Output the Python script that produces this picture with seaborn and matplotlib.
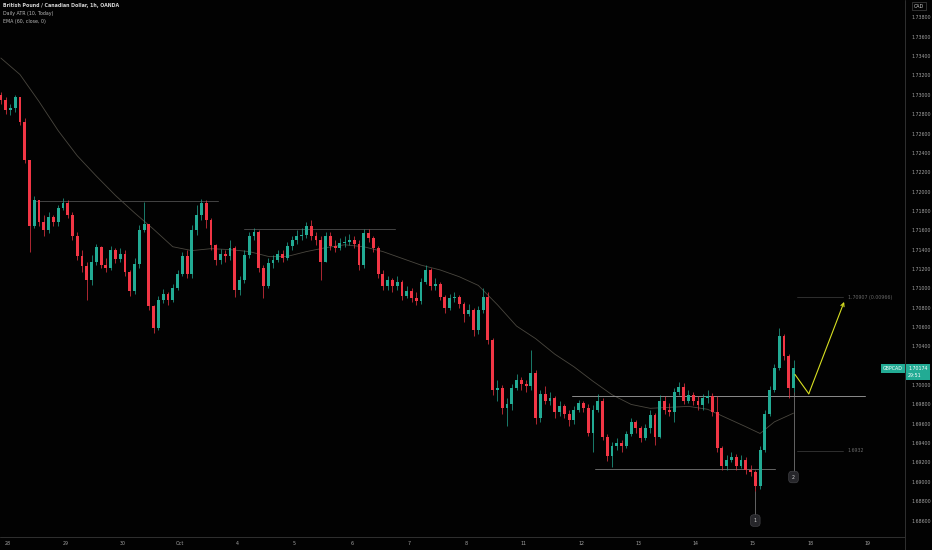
import numpy as np
import pandas as pd
import matplotlib
matplotlib.use("Agg")
import matplotlib.pyplot as plt
import matplotlib.transforms as mtransforms
from matplotlib.lines import Line2D
import seaborn as sns

# GBPCAD candles (2h bars, bar 0 = start of Sep 28)
first_open = 1.7300
closes = [1.7295, 1.7284, 1.7286, 1.7298, 1.7272, 1.7233, 1.7164, 1.7191, 1.7169, 1.7160,
          1.7174, 1.7169, 1.7183, 1.7188, 1.7176, 1.7154, 1.7133, 1.7123, 1.7109, 1.7127,
          1.7143, 1.7124, 1.7121, 1.7140, 1.7130, 1.7136, 1.7117, 1.7097, 1.7125, 1.7160,
          1.7166, 1.7082, 1.7059, 1.7088, 1.7094, 1.7088, 1.7100, 1.7115, 1.7133, 1.7115,
          1.7160, 1.7176, 1.7188, 1.7171, 1.7145, 1.7129, 1.7135, 1.7133, 1.7142, 1.7098,
          1.7109, 1.7134, 1.7154, 1.7158, 1.7121, 1.7102, 1.7126, 1.7129, 1.7136, 1.7131,
          1.7144, 1.7150, 1.7154, 1.7155, 1.7164, 1.7154, 1.7150, 1.7127, 1.7154, 1.7144,
          1.7142, 1.7147, 1.7148, 1.7150, 1.7146, 1.7124, 1.7157, 1.7152, 1.7142, 1.7115,
          1.7102, 1.7109, 1.7102, 1.7107, 1.7092, 1.7097, 1.7090, 1.7087, 1.7107, 1.7119,
          1.7102, 1.7104, 1.7091, 1.7080, 1.7090, 1.7091, 1.7084, 1.7073, 1.7078, 1.7057,
          1.7078, 1.7091, 1.7047, 1.6995, 1.6997, 1.6976, 1.6980, 1.6997, 1.7005, 1.7001,
          1.6999, 1.7013, 1.6966, 1.6991, 1.6984, 1.6987, 1.6972, 1.6978, 1.6970, 1.6964,
          1.6974, 1.6981, 1.6976, 1.6951, 1.6974, 1.6984, 1.6946, 1.6927, 1.6937, 1.6940,
          1.6937, 1.6949, 1.6962, 1.6956, 1.6945, 1.6956, 1.6969, 1.6946, 1.6984, 1.6974,
          1.6972, 1.6993, 1.6998, 1.6984, 1.6990, 1.6984, 1.6979, 1.6987, 1.6989, 1.6972,
          1.6935, 1.6916, 1.6923, 1.6926, 1.6916, 1.6923, 1.6912, 1.6910, 1.6896, 1.6933,
          1.6970, 1.6995, 1.7018, 1.7051, 1.7030, 1.6997, 1.70174]
highs = [1.7303, 1.7298, 1.7291, 1.7300, 1.7298, 1.7276, 1.7222, 1.7195, 1.7191, 1.7176,
         1.7179, 1.7176, 1.7186, 1.7193, 1.7191, 1.7179, 1.7158, 1.7140, 1.7127, 1.7134,
         1.7146, 1.7144, 1.7131, 1.7144, 1.7142, 1.7142, 1.7140, 1.7119, 1.7131, 1.7165,
         1.7189, 1.7166, 1.7083, 1.7092, 1.7099, 1.7096, 1.7104, 1.7119, 1.7138, 1.7140,
         1.7165, 1.7186, 1.7192, 1.7191, 1.7173, 1.7146, 1.7141, 1.7140, 1.7150, 1.7144,
         1.7113, 1.7140, 1.7158, 1.7162, 1.7160, 1.7124, 1.7131, 1.7134, 1.7140, 1.7140,
         1.7148, 1.7154, 1.7160, 1.7162, 1.7169, 1.7171, 1.7158, 1.7154, 1.7158, 1.7158,
         1.7150, 1.7152, 1.7154, 1.7156, 1.7154, 1.7150, 1.7161, 1.7161, 1.7154, 1.7144,
         1.7119, 1.7113, 1.7111, 1.7113, 1.7109, 1.7102, 1.7100, 1.7096, 1.7111, 1.7124,
         1.7121, 1.7111, 1.7107, 1.7093, 1.7094, 1.7096, 1.7093, 1.7086, 1.7084, 1.7080,
         1.7082, 1.7100, 1.7096, 1.7049, 1.7005, 1.7000, 1.6987, 1.7001, 1.7011, 1.7008,
         1.7005, 1.7036, 1.7016, 1.6995, 1.6999, 1.6993, 1.6989, 1.6984, 1.6980, 1.6974,
         1.6978, 1.6985, 1.6984, 1.6980, 1.6979, 1.6991, 1.6987, 1.6949, 1.6941, 1.6945,
         1.6943, 1.6953, 1.6966, 1.6964, 1.6958, 1.6960, 1.6974, 1.6971, 1.6990, 1.6989,
         1.6982, 1.6997, 1.7003, 1.7002, 1.6995, 1.6993, 1.6989, 1.6991, 1.6995, 1.6992,
         1.6989, 1.6937, 1.6928, 1.6931, 1.6929, 1.6928, 1.6926, 1.6917, 1.6912, 1.6937,
         1.6974, 1.6999, 1.7022, 1.7059, 1.7053, 1.7032, 1.7026]
lows = [1.7290, 1.7280, 1.7279, 1.7282, 1.7269, 1.7230, 1.7138, 1.7162, 1.7164, 1.7154,
        1.7157, 1.7164, 1.7164, 1.7181, 1.7173, 1.7150, 1.7129, 1.7117, 1.7088, 1.7103,
        1.7124, 1.7121, 1.7117, 1.7119, 1.7126, 1.7127, 1.7113, 1.7092, 1.7094, 1.7121,
        1.7158, 1.7078, 1.7054, 1.7057, 1.7085, 1.7083, 1.7086, 1.7098, 1.7113, 1.7111,
        1.7111, 1.7155, 1.7171, 1.7162, 1.7140, 1.7124, 1.7125, 1.7127, 1.7129, 1.7091,
        1.7093, 1.7105, 1.7131, 1.7150, 1.7117, 1.7090, 1.7100, 1.7121, 1.7127, 1.7127,
        1.7129, 1.7140, 1.7146, 1.7150, 1.7152, 1.7150, 1.7145, 1.7109, 1.7127, 1.7140,
        1.7138, 1.7140, 1.7143, 1.7145, 1.7142, 1.7119, 1.7121, 1.7148, 1.7138, 1.7111,
        1.7098, 1.7098, 1.7096, 1.7098, 1.7088, 1.7090, 1.7086, 1.7083, 1.7084, 1.7104,
        1.7098, 1.7098, 1.7088, 1.7075, 1.7078, 1.7086, 1.7080, 1.7065, 1.7071, 1.7051,
        1.7053, 1.7075, 1.7042, 1.6990, 1.6984, 1.6970, 1.6958, 1.6974, 1.6995, 1.6995,
        1.6993, 1.6995, 1.6960, 1.6962, 1.6980, 1.6979, 1.6966, 1.6968, 1.6966, 1.6958,
        1.6960, 1.6972, 1.6972, 1.6947, 1.6931, 1.6972, 1.6943, 1.6922, 1.6915, 1.6933,
        1.6931, 1.6935, 1.6947, 1.6951, 1.6941, 1.6943, 1.6951, 1.6938, 1.6945, 1.6970,
        1.6968, 1.6962, 1.6990, 1.6980, 1.6982, 1.6979, 1.6974, 1.6974, 1.6982, 1.6968,
        1.6931, 1.6912, 1.6912, 1.6920, 1.6912, 1.6914, 1.6908, 1.6906, 1.6891, 1.6893,
        1.6931, 1.6968, 1.6993, 1.7016, 1.7026, 1.6987, 1.6993]

# EMA(60) read at every few bars
ema_bars = [-2, 2, 6, 10, 14, 18, 22, 26, 30, 34, 38, 42, 46, 50, 54, 58, 62, 66, 70, 74,
            78, 82, 86, 90, 94, 98, 102, 106, 110, 114, 118, 122, 126, 130, 134, 138, 142,
            146, 150, 154, 157, 160, 164]
ema_values = [1.7338, 1.7321, 1.7293, 1.7263, 1.7237, 1.7216, 1.7196, 1.7178, 1.7161, 1.7143,
              1.7139, 1.7141, 1.7140, 1.7138, 1.7133, 1.7133, 1.7138, 1.7142, 1.7145, 1.7143,
              1.7138, 1.7131, 1.7124, 1.7119, 1.7112, 1.7103, 1.7083, 1.7061, 1.7048, 1.7032,
              1.7019, 1.7004, 1.6990, 1.6980, 1.6976, 1.6977, 1.6978, 1.6975, 1.6966, 1.6957,
              1.6950, 1.6962, 1.6971]

day_labels = ['28', '29', '30', 'Oct', '4', '5', '6', '7', '8', '11', '12', '13', '14', '15', '18', '19']
price_ticks = [1.686, 1.688, 1.690, 1.692, 1.694, 1.696, 1.698, 1.700, 1.702, 1.704, 1.706,
               1.708, 1.710, 1.712, 1.714, 1.716, 1.718, 1.720, 1.722, 1.724, 1.726, 1.728,
               1.730, 1.732, 1.734, 1.736, 1.738]
hidden_tick = 1.702   # sits under the last-price tag

# drawn levels: price, start bar, end bar, colour
level_prices = [1.7190, 1.7161, 1.6989, 1.6913]
level_starts = [5.2, 48.9, 117.6, 122.5]
level_ends = [43.5, 80.5, 179.0, 160.1]
level_colors = ['#444444', '#444444', '#8c8c8c', '#666666']

# projection drawing
proj_bars = [164.3, 167.2, 174.6]
proj_prices = [1.7011, 1.6991, 1.7086]
target_price, target_text = 1.70907, '1.70907 (0.00966)'
stop_price, stop_text = 1.6932, '1.6932'

BG = '#020202'
UP = '#22ab94'
DOWN = '#f23645'
GRID_TXT = '#a3a3a3'
FS = 3.4

sns.set_theme(style="dark", rc={"axes.facecolor": BG, "figure.facecolor": BG})
plt.rcParams['font.family'] = ['DejaVu Sans']

W, H = 932, 550
fig = plt.figure(figsize=(W / 100, H / 100), dpi=100)
ax = fig.add_axes([0, 13 / H, 905 / W, 537 / H])
ax.set_facecolor(BG)

df = pd.DataFrame({'close': closes, 'high': highs, 'low': lows})
df['bar'] = np.arange(len(df)) - 2
df['open'] = df['close'].shift(1).fillna(first_open)
df['top'] = df[['open', 'close']].max(axis=1)
df['bottom'] = df[['open', 'close']].min(axis=1)
df['high'] = np.maximum(df['high'], df['top'])
df['low'] = np.minimum(df['low'], df['bottom'])
colors = np.where(df['close'] >= df['open'], UP, DOWN)

ax.vlines(df['bar'], df['low'], df['high'], colors=colors, linewidth=0.5, zorder=3)
ax.bar(df['bar'], (df['top'] - df['bottom']).clip(lower=0.00004), bottom=df['bottom'],
       width=0.6, color=colors, linewidth=0, zorder=4)

sns.lineplot(x=ema_bars, y=ema_values, ax=ax, color='#4a473f', linewidth=0.6, zorder=2)

for p, s, e, c in zip(level_prices, level_starts, level_ends, level_colors):
    ax.plot([s, e], [p, p], color=c, linewidth=0.7, zorder=2)

# target / stop helper lines
for p, t in [(target_price, target_text), (stop_price, stop_text)]:
    ax.plot([164.7, 174.4], [p, p], color='#363636', linewidth=0.6)
    ax.text(175.4, p, t, color='#6a6a6a', fontsize=FS, va='center', ha='left')

# yellow projection
yel = '#d8e021'
ax.plot(proj_bars[:2], proj_prices[:2], color=yel, linewidth=0.8, zorder=5)
ax.annotate('', xy=(proj_bars[2], proj_prices[2]), xytext=(proj_bars[1], proj_prices[1]),
            arrowprops=dict(arrowstyle='->', color=yel, lw=0.8, mutation_scale=6,
                            shrinkA=0, shrinkB=0), zorder=5)

# numbered markers
ax.plot([156, 156], [1.6891, 1.6866], color='#8a8a8a', linewidth=0.5)
ax.plot([164, 164], [1.6993, 1.6910], color='#8a8a8a', linewidth=0.5)
for b, p, t in [(156, 1.6860, '1'), (164, 1.6905, '2')]:
    ax.text(b, p, t, color='#d0d0d0', fontsize=FS, ha='center', va='center', zorder=6,
            bbox=dict(boxstyle='round,pad=0.7', fc='#26262a', ec='#4a4a4e', lw=0.4))

ax.set_xlim(-2.18, 187.35)
ax.set_ylim(1.6843, 1.7398)

ax.set_xticks([12 * d - 0.5 for d in range(len(day_labels))])
ax.set_xticklabels(day_labels)
ax.set_yticks(price_ticks)
ax.set_yticklabels(['' if abs(t - hidden_tick) < 1e-9 else f'{t:.5f}' for t in price_ticks])
ax.yaxis.tick_right()
ax.tick_params(axis='y', length=0, pad=5, labelsize=FS, labelcolor=GRID_TXT)
ax.tick_params(axis='x', length=0, pad=3, labelsize=FS, labelcolor=GRID_TXT)
ax.grid(False)
for s in ax.spines.values():
    s.set_visible(False)

# panel separators
fig.add_artist(Line2D([905 / W, 905 / W], [0, 1], transform=fig.transFigure, color='#303030', lw=0.7))
fig.add_artist(Line2D([0, 905 / W], [13 / H, 13 / H], transform=fig.transFigure, color='#303030', lw=0.7))

# last price tags
tr = mtransforms.blended_transform_factory(ax.transAxes, ax.transData)
last = closes[-1]
ax.text(1 + 3 / 905, last - 0.00035, f'{last:.5f}\n29:51', transform=tr, color='white',
        fontsize=FS, ha='left', va='center', linespacing=1.5, clip_on=False, zorder=7,
        bbox=dict(boxstyle='square,pad=0.45', fc=UP, ec='none'))
ax.text(1 - 2 / 905, last, 'GBPCAD', transform=tr, color='white', fontsize=FS,
        ha='right', va='center', zorder=7,
        bbox=dict(boxstyle='square,pad=0.4', fc=UP, ec='none'))

fig.text(919 / W, 1 - 6 / H, 'CAD', color='#cfcfcf', fontsize=FS, ha='center', va='center',
         bbox=dict(boxstyle='square,pad=0.35', fc=BG, ec='#555555', lw=0.4))

# legend block
fig.text(3 / W, 1 - 6 / H, 'British Pound / Canadian Dollar, 1h, OANDA', color='#d6d6d6',
         fontsize=FS, fontweight='semibold', va='center')
fig.text(3 / W, 1 - 14 / H, 'Daily ATR (10, Today)', color='#b8b8b8', fontsize=FS, va='center')
fig.text(3 / W, 1 - 22 / H, 'EMA (60, close, 0)', color='#b8b8b8', fontsize=FS, va='center')

fig.savefig('out.png', dpi=100, facecolor=BG)
